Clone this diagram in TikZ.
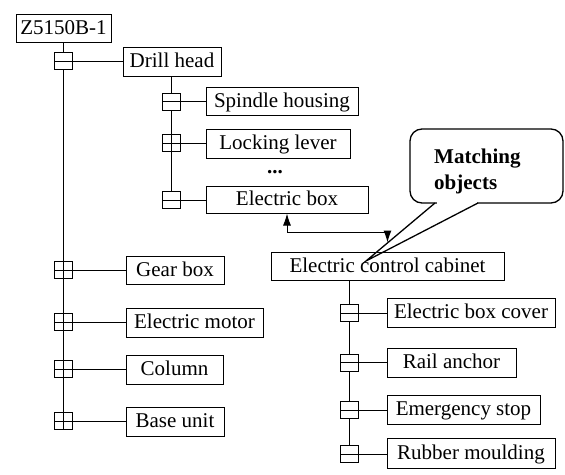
\documentclass[tikz,border=0pt]{standalone}
\usepackage{fontspec}
\setmainfont{Liberation Serif}
\usetikzlibrary{arrows.meta}
\pgfdeclarelayer{bg}
\pgfsetlayers{bg,main}
\begin{document}
\begin{tikzpicture}[x=1pt,y=-1pt,
  every node/.style={font=\fontsize{21}{25}\selectfont},
  part/.style={draw, line width=1pt, minimum height=28pt, inner sep=0pt, fill=white, text height=15pt, text depth=3pt},
  mk/.style={draw, line width=1pt, fill=white, minimum width=18pt, minimum height=17pt, inner sep=0pt},
  mkminus/.style={mk, path picture={\draw[line width=1pt] (path picture bounding box.west) -- (path picture bounding box.east);}},
  mkplus/.style={mk, path picture={\draw[line width=1pt] (path picture bounding box.west) -- (path picture bounding box.east) (path picture bounding box.north) -- (path picture bounding box.south);}},
  link/.style={line width=1pt},
  tip/.style={line width=1pt, {Latex[length=12pt,width=8pt]}-{Latex[length=12pt,width=8pt]}},
  callout/.style={line width=1.3pt}
  ]
\useasboundingbox (0,0) rectangle (565,474);

% part boxes
\node[part, minimum width=95pt] (z) at (63.5,28) {Z5150B-1};
\node[part, minimum width=98pt, minimum height=29pt] (drill) at (172,61.5) {Drill head};
\node[part, minimum width=152pt] (spindle) at (282,101) {Spindle housing};
\node[part, minimum width=144pt, minimum height=29pt] (lock) at (278,143.5) {Locking lever};
\node[font=\fontsize{21}{25}\selectfont\bfseries, anchor=base, inner sep=0pt] (dots) at (275,173) {...};
\node[part, minimum width=162pt, minimum height=27pt] (ebox) at (287,199.5) {Electric box};
\node[part, minimum width=98pt] (gear) at (175,270) {Gear box};
\node[part, minimum width=137pt, minimum height=29pt] (motor) at (194.5,322.5) {Electric motor};
\node[part, minimum width=97pt, minimum height=29pt] (column) at (174.5,369.5) {Column};
\node[part, minimum width=98pt, minimum height=29pt] (base) at (175,421.5) {Base unit};
\node[part, minimum width=233pt] (cab) at (387.5,266) {Electric control cabinet};
\node[part, minimum width=168pt, minimum height=29pt] (cover) at (471,312.5) {Electric box cover};
\node[part, minimum width=129pt, minimum height=29pt] (rail) at (451.5,362.5) {Rail anchor};
\node[part, minimum width=153pt, minimum height=29pt] (estop) at (463.5,409.5) {Emergency stop};
\node[part, minimum width=168pt, minimum height=30pt] (rubber) at (471,453) {Rubber moulding};

% markers
\node[mkminus] (m1) at (63,61) {};
\node[mkplus] (m2) at (63,270) {};
\node[mkplus] (m3) at (63,322) {};
\node[mkplus] (m4) at (63,369) {};
\node[mkplus] (m5) at (63,421) {};
\node[mkminus] (d1) at (171,101.5) {};
\node[mkplus] (d2) at (171,143) {};
\node[mkminus] (d3) at (171,200) {};
\node[mkminus] (c1) at (349,313) {};
\node[mkminus] (c2) at (349,362.5) {};
\node[mkminus] (c3) at (349,410) {};
\node[mkminus] (c4) at (349,454) {};

% trunks
\begin{pgfonlayer}{bg}
\draw[link] (z.south -| m1) -- (m5.center);
\draw[link] (drill.south -| d1) -- (d3.center);
\draw[link] (cab.south -| c1) -- (c4.center);
\end{pgfonlayer}

% branches
\draw[link] (m1.east) -- (m1.east -| drill.west);
\draw[link] (m2.east) -- (m2.east -| gear.west);
\draw[link] (m3.east) -- (m3.east -| motor.west);
\draw[link] (m4.east) -- (m4.east -| column.west);
\draw[link] (m5.east) -- (m5.east -| base.west);
\draw[link] (d1.east) -- (d1.east -| spindle.west);
\draw[link] (d2.east) -- (d2.east -| lock.west);
\draw[link] (d3.east) -- (d3.east -| ebox.west);
\draw[link] (c1.east) -- (c1.east -| cover.west);
\draw[link] (c2.east) -- (c2.east -| rail.west);
\draw[link] (c3.east) -- (c3.east -| estop.west);
\draw[link] (c4.east) -- (c4.east -| rubber.west);

% matching arrow
\coordinate (j1) at (287,232);
\draw[tip] (ebox.south) -- (ebox.south |- j1) -| ([yshift=9pt]cab.north);

% callout
\coordinate (ptip) at (366,261);
\draw[callout, rounded corners=12pt, fill=white] (410,129) rectangle (563,203);
\fill[white] (436.5,201) rectangle (476.5,205);
\draw[callout, line join=miter] (435,203) -- (ptip) -- (478,203);
\node[font=\fontsize{21}{26}\selectfont\bfseries, align=left, anchor=north west, inner sep=0pt] (note) at (434,148.5) {Matching\\objects};
\end{tikzpicture}
\end{document}
